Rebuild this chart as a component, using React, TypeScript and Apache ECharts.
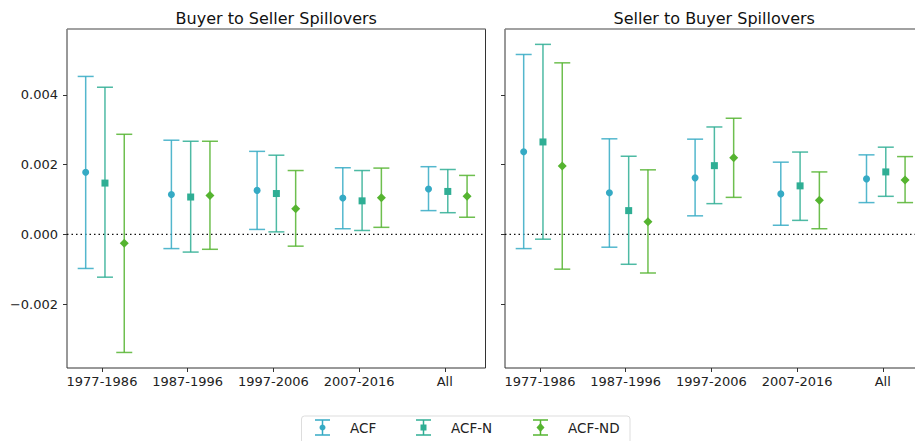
import React, { useEffect, useRef } from "react";
import * as echarts from "echarts";

const periods = ["1977-1986", "1987-1996", "1997-2006", "2007-2016", "All"];
const seriesNames = ["ACF", "ACF-N", "ACF-ND"];
const colors = ["#35aac4", "#2fae94", "#55b430"];
const symbols = ["circle", "rect", "diamond"];
const symbolSizes = [7, 7, 9];
const offsets = [-0.19, 0.035, 0.26];
const panelTitles = ["Buyer to Seller Spillovers", "Seller to Buyer Spillovers"];
const yTicks = [-0.002, 0, 0.002, 0.004];

// Buyer to Seller (x1e-3)
const bsACF = [1.78, 1.14, 1.26, 1.04, 1.3];
const bsACFLow = [-0.98, -0.41, 0.14, 0.16, 0.68];
const bsACFHigh = [4.53, 2.7, 2.38, 1.91, 1.94];
const bsACFN = [1.47, 1.07, 1.17, 0.96, 1.23];
const bsACFNLow = [-1.23, -0.51, 0.07, 0.11, 0.62];
const bsACFNHigh = [4.22, 2.67, 2.27, 1.83, 1.86];
const bsACFND = [-0.26, 1.11, 0.73, 1.05, 1.09];
const bsACFNDLow = [-3.39, -0.43, -0.34, 0.2, 0.49];
const bsACFNDHigh = [2.87, 2.67, 1.83, 1.9, 1.69];

// Seller to Buyer (x1e-3)
const sbACF = [2.37, 1.19, 1.62, 1.16, 1.59];
const sbACFLow = [-0.41, -0.37, 0.53, 0.26, 0.91];
const sbACFHigh = [5.16, 2.74, 2.73, 2.07, 2.28];
const sbACFN = [2.65, 0.68, 1.97, 1.39, 1.79];
const sbACFNLow = [-0.14, -0.86, 0.88, 0.4, 1.09];
const sbACFNHigh = [5.45, 2.24, 3.08, 2.36, 2.5];
const sbACFND = [1.96, 0.36, 2.2, 0.98, 1.56];
const sbACFNDLow = [-1.0, -1.11, 1.06, 0.16, 0.91];
const sbACFNDHigh = [4.92, 1.85, 3.33, 1.79, 2.23];

const panels = [
  [
    [bsACF, bsACFLow, bsACFHigh],
    [bsACFN, bsACFNLow, bsACFNHigh],
    [bsACFND, bsACFNDLow, bsACFNDHigh],
  ],
  [
    [sbACF, sbACFLow, sbACFHigh],
    [sbACFN, sbACFNLow, sbACFNHigh],
    [sbACFND, sbACFNDLow, sbACFNDHigh],
  ],
];

const FONT = "DejaVu Sans";
const gridLefts = [67, 505];
const gridTop = 29;
const gridW = 418.5;
const gridH = 339;

export default function App() {
  const ref = useRef<HTMLDivElement>(null);
  useEffect(() => {
    if (!ref.current) return;
    const chart = echarts.init(ref.current, null, { renderer: "svg" });
    const grids: any[] = [];
    const xAxes: any[] = [];
    const yAxes: any[] = [];
    const series: any[] = [];
    const graphics: any[] = [];

    panels.forEach((panel, p) => {
      grids.push({
        left: gridLefts[p],
        top: gridTop,
        width: gridW,
        height: gridH,
        show: true,
        borderColor: "#333",
        borderWidth: 1,
        backgroundColor: "transparent",
      });
      xAxes.push({
        type: "value",
        gridIndex: p,
        position: "bottom",
        min: -0.408,
        max: 4.475,
        splitLine: { show: false },
        axisLine: { show: false, onZero: false },
        axisTick: {
          show: true,
          customValues: [0, 1, 2, 3, 4],
          length: 4,
          lineStyle: { color: "#333" },
        },
        axisLabel: {
          customValues: [0, 1, 2, 3, 4],
          formatter: (v: number) => periods[Math.round(v)],
          color: "#222",
          fontFamily: FONT,
          fontSize: 13,
          margin: 7,
        },
      });
      yAxes.push({
        type: "value",
        gridIndex: p,
        position: "left",
        min: -0.003836,
        max: 0.005891,
        splitLine: { show: false },
        axisLine: { show: false, onZero: false },
        axisTick: {
          show: true,
          customValues: yTicks,
          length: 4,
          lineStyle: { color: "#333" },
        },
        axisLabel: {
          show: p === 0,
          customValues: yTicks,
          formatter: (v: number) =>
            Math.abs(v) < 1e-12 ? "0.000" : v < 0 ? "\u2212" + Math.abs(v).toFixed(3) : v.toFixed(3),
          color: "#222",
          fontFamily: FONT,
          fontSize: 13,
          margin: 9,
        },
      });

      panel.forEach((s, k) => {
        const [mid, low, high] = s;
        const barData = mid.map((_, i) => [i + offsets[k], low[i] / 1000, high[i] / 1000]);
        const pts = mid.map((m, i) => [i + offsets[k], m / 1000]);
        const color = colors[k];
        series.push({
          type: "custom",
          name: seriesNames[k],
          xAxisIndex: p,
          yAxisIndex: p,
          data: barData,
          z: 2,
          renderItem: (params: any, api: any) => {
            const x = api.value(0);
            const lo = api.coord([x, api.value(1)]);
            const hi = api.coord([x, api.value(2)]);
            const cap = 8;
            const st = { stroke: color, lineWidth: 1.5, opacity: 0.85 };
            return {
              type: "group",
              children: [
                { type: "line", shape: { x1: lo[0], y1: lo[1], x2: hi[0], y2: hi[1] }, style: st },
                { type: "line", shape: { x1: lo[0] - cap, y1: lo[1], x2: lo[0] + cap, y2: lo[1] }, style: st },
                { type: "line", shape: { x1: hi[0] - cap, y1: hi[1], x2: hi[0] + cap, y2: hi[1] }, style: st },
              ],
            };
          },
        });
        series.push({
          type: "scatter",
          name: seriesNames[k] + " point",
          xAxisIndex: p,
          yAxisIndex: p,
          data: pts,
          symbol: symbols[k],
          symbolSize: symbolSizes[k],
          itemStyle: { color, opacity: 1 },
          z: 3,
          silent: true,
        });
      });

      // zero dotted line
      series.push({
        type: "line",
        xAxisIndex: p,
        yAxisIndex: p,
        data: [
          [-0.408, 0],
          [4.475, 0],
        ],
        showSymbol: false,
        symbol: "none",
        lineStyle: { color: "#111", width: 1.3, type: [1.5, 3] },
        z: 1,
        silent: true,
      });

      graphics.push({
        type: "text",
        x: gridLefts[p] + gridW / 2,
        y: 18,
        style: {
          text: panelTitles[p],
          fontFamily: FONT,
          fontSize: 16,
          fill: "#111",
          align: "center",
          verticalAlign: "middle",
        },
      });
      graphics.push({
        type: "line",
        shape: { x1: gridLefts[p], y1: gridTop, x2: gridLefts[p] + gridW, y2: gridTop },
        style: { stroke: "#aaa", lineWidth: 1.2 },
        z: 100,
      });
    });

    // legend
    graphics.push({
      type: "rect",
      shape: { x: 301.5, y: 416, width: 328.5, height: 40, r: 3 },
      style: { fill: "#fff", stroke: "#ddd", lineWidth: 1 },
      z: 50,
    });
    const legendIconX = [322.5, 423.5, 540.5];
    const legendTextX = [350, 451, 568];
    seriesNames.forEach((n, k) => {
      const cx = legendIconX[k];
      const cy = 427.5;
      const c = colors[k];
      const st = { stroke: c, lineWidth: 1.5 };
      graphics.push({ type: "line", shape: { x1: cx, y1: cy - 7.5, x2: cx, y2: cy + 7.5 }, style: st, z: 51 });
      graphics.push({ type: "line", shape: { x1: cx - 7.5, y1: cy - 7.5, x2: cx + 7.5, y2: cy - 7.5 }, style: st, z: 51 });
      graphics.push({ type: "line", shape: { x1: cx - 7.5, y1: cy + 7.5, x2: cx + 7.5, y2: cy + 7.5 }, style: st, z: 51 });
      if (k === 0) {
        graphics.push({ type: "circle", shape: { cx, cy, r: 3 }, style: { fill: c }, z: 52 });
      } else if (k === 1) {
        graphics.push({ type: "rect", shape: { x: cx - 3, y: cy - 3, width: 6, height: 6 }, style: { fill: c }, z: 52 });
      } else {
        graphics.push({
          type: "polygon",
          shape: { points: [[cx, cy - 4.5], [cx + 4, cy], [cx, cy + 4.5], [cx - 4, cy]] },
          style: { fill: c },
          z: 52,
        });
      }
      graphics.push({
        type: "text",
        x: legendTextX[k],
        y: cy,
        style: { text: n, fontFamily: FONT, fontSize: 13.5, fill: "#222", verticalAlign: "middle" },
        z: 52,
      });
    });

    chart.setOption({
      animation: false,
      backgroundColor: "#fff",
      grid: grids,
      xAxis: xAxes,
      yAxis: yAxes,
      series,
      graphic: graphics,
    });
    return () => chart.dispose();
  }, []);
  return (
    <div style={{ position: "fixed", left: 0, top: 0, width: 915, height: 441, overflow: "hidden", background: "#fff" }}>
      <div ref={ref} style={{ width: 935, height: 441 }} />
    </div>
  );
}
